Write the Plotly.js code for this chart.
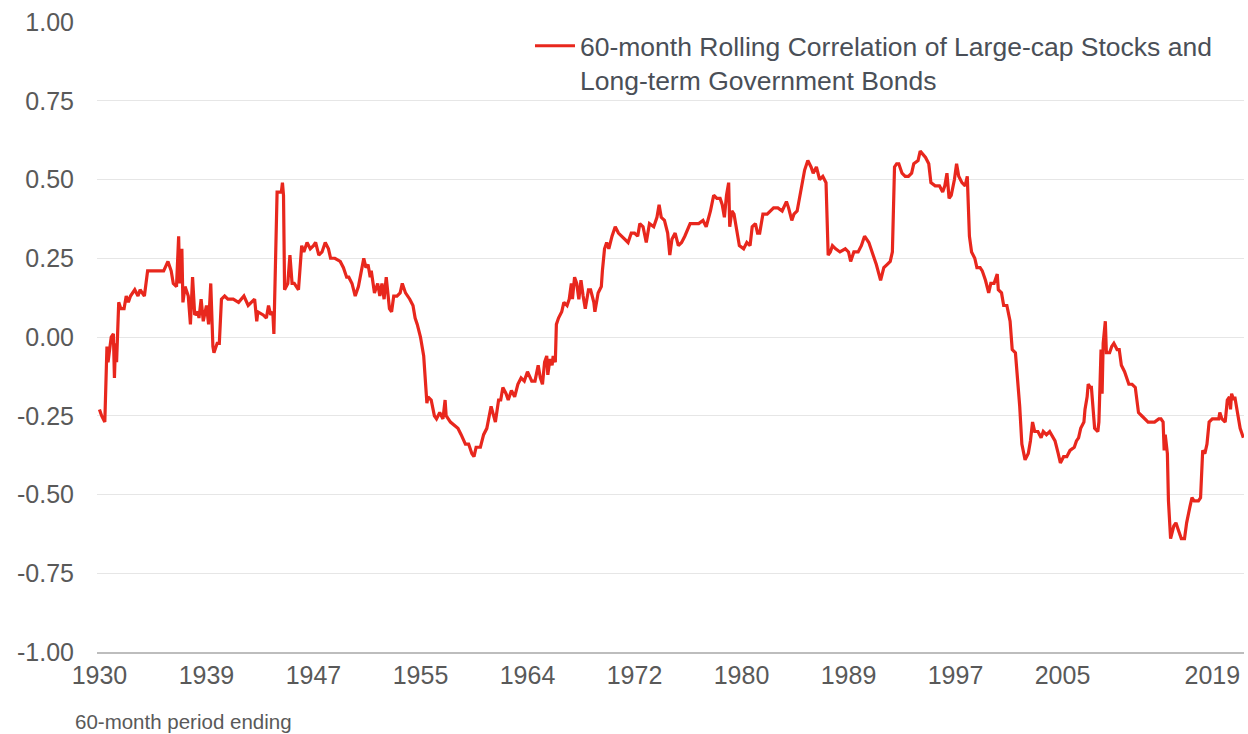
<!DOCTYPE html>
<html>
<head>
<meta charset="utf-8">
<script src="https://cdn.plot.ly/plotly-3.0.1.min.js"></script>
<style>html,body{margin:0;padding:0;background:#fff;}#chart{width:1248px;height:734px;}</style>
</head>
<body>
<div id="chart"></div>
<script>
// Months elapsed since the first 60-month period ending (Dec 1930 = 0)
const monthIndex = [0,2,5,7,8,10,11,13,14,15,16,18,20,23,25,27,29,33,36,38,42,45,49,53,60,64,67,69,72,74,75,77,78,80,83,85,87,89,92,93,95,97,100,102,104,106,107,110,112,114,117,120,125,130,135,139,142,145,147,148,153,156,158,160,162,163,166,168,170,171,172,173,176,178,180,182,186,189,191,194,197,200,202,205,208,211,214,216,220,225,228,231,233,236,239,242,245,247,249,251,253,254,257,260,262,264,266,268,271,273,275,278,281,283,286,290,293,295,297,300,303,304,306,307,310,313,315,318,321,323,324,328,332,335,338,342,345,348,350,352,356,359,362,366,370,373,375,377,380,382,385,388,391,394,397,400,404,407,410,412,414,416,418,419,421,423,424,426,427,429,432,434,437,439,441,442,444,446,448,450,452,454,457,459,462,463,466,469,470,472,474,476,479,482,485,488,491,494,497,500,503,505,508,511,514,518,521,523,525,528,531,533,535,538,541,544,547,552,555,560,564,567,571,574,577,580,582,584,586,588,589,591,593,596,598,602,605,608,610,613,615,617,620,624,627,630,634,638,642,644,647,649,652,654,656,659,662,665,667,670,673,676,679,681,683,685,688,692,697,700,702,705,709,712,715,719,721,723,726,730,733,736,739,741,743,745,747,750,753,756,759,761,765,767,770,772,775,777,781,785,788,790,792,794,796,799,801,803,806,809,811,813,815,818,820,823,825,828,831,833,836,839,840,843,845,848,851,853,856,858,860,862,865,868,870,872,874,877,880,882,885,888,891,893,896,898,901,904,907,911,913,915,917,920,921,923,924,926,927,929,930,933,934,936,937,938,940,941,944,946,948,951,953,955,958,962,965,968,971,974,977,980,983,986,990,992,994,995,996,998,999,1001,1004,1006,1008,1011,1014,1016,1019,1021,1023,1027,1029,1031,1033,1035,1037,1040,1043,1046,1047,1049,1052,1054,1056,1057,1058,1060,1061,1063,1064,1066,1069];

// 60-month rolling correlation values
const correlation = [-0.23,-0.25,-0.27,-0.03,-0.08,-0.03,0.00,0.01,-0.13,-0.02,-0.08,0.11,0.09,0.09,0.13,0.11,0.13,0.15,0.13,0.15,0.13,0.21,0.21,0.21,0.21,0.24,0.21,0.17,0.16,0.32,0.17,0.28,0.11,0.16,0.13,0.04,0.19,0.07,0.08,0.06,0.12,0.05,0.10,0.04,0.17,-0.03,-0.05,-0.02,-0.02,0.12,0.13,0.12,0.12,0.11,0.13,0.10,0.11,0.12,0.05,0.08,0.07,0.06,0.10,0.07,0.08,0.01,0.46,0.46,0.46,0.49,0.45,0.15,0.17,0.26,0.17,0.17,0.15,0.29,0.27,0.30,0.28,0.29,0.30,0.26,0.27,0.30,0.28,0.25,0.25,0.24,0.22,0.19,0.19,0.17,0.13,0.16,0.21,0.25,0.22,0.23,0.19,0.21,0.14,0.17,0.13,0.17,0.12,0.19,0.09,0.08,0.13,0.13,0.14,0.17,0.14,0.12,0.10,0.06,0.04,0.00,-0.06,-0.10,-0.21,-0.19,-0.20,-0.25,-0.26,-0.24,-0.26,-0.20,-0.25,-0.27,-0.28,-0.29,-0.31,-0.34,-0.34,-0.37,-0.38,-0.35,-0.35,-0.31,-0.29,-0.22,-0.27,-0.20,-0.20,-0.16,-0.18,-0.20,-0.17,-0.19,-0.15,-0.13,-0.14,-0.11,-0.14,-0.14,-0.09,-0.13,-0.15,-0.08,-0.06,-0.12,-0.07,-0.09,-0.06,-0.08,0.04,0.06,0.08,0.11,0.10,0.12,0.17,0.12,0.19,0.17,0.12,0.18,0.13,0.09,0.15,0.15,0.11,0.08,0.14,0.16,0.21,0.28,0.30,0.28,0.32,0.35,0.33,0.32,0.31,0.30,0.33,0.33,0.32,0.36,0.35,0.30,0.36,0.35,0.38,0.42,0.38,0.37,0.33,0.26,0.31,0.33,0.29,0.30,0.32,0.36,0.36,0.36,0.37,0.35,0.40,0.45,0.44,0.44,0.42,0.38,0.45,0.49,0.35,0.40,0.39,0.33,0.29,0.28,0.30,0.29,0.35,0.36,0.33,0.33,0.39,0.39,0.40,0.41,0.41,0.40,0.43,0.41,0.37,0.39,0.40,0.44,0.47,0.53,0.56,0.54,0.52,0.54,0.50,0.51,0.49,0.26,0.27,0.29,0.28,0.27,0.28,0.27,0.24,0.27,0.27,0.29,0.32,0.30,0.28,0.26,0.23,0.18,0.22,0.23,0.24,0.27,0.54,0.55,0.55,0.52,0.51,0.51,0.52,0.55,0.56,0.59,0.58,0.57,0.55,0.49,0.48,0.48,0.46,0.48,0.52,0.44,0.45,0.50,0.55,0.51,0.49,0.48,0.51,0.32,0.27,0.25,0.22,0.22,0.21,0.18,0.14,0.17,0.17,0.20,0.15,0.14,0.10,0.10,0.05,-0.04,-0.05,-0.13,-0.22,-0.34,-0.39,-0.37,-0.33,-0.27,-0.30,-0.30,-0.32,-0.30,-0.31,-0.30,-0.32,-0.33,-0.37,-0.40,-0.38,-0.38,-0.36,-0.35,-0.33,-0.32,-0.29,-0.27,-0.23,-0.19,-0.15,-0.16,-0.16,-0.25,-0.29,-0.30,-0.27,-0.04,-0.18,-0.02,0.05,-0.05,-0.05,-0.03,-0.02,-0.04,-0.04,-0.09,-0.11,-0.15,-0.15,-0.16,-0.24,-0.25,-0.26,-0.27,-0.27,-0.27,-0.26,-0.26,-0.27,-0.36,-0.31,-0.37,-0.52,-0.64,-0.60,-0.59,-0.61,-0.64,-0.64,-0.59,-0.54,-0.51,-0.52,-0.52,-0.51,-0.36,-0.37,-0.34,-0.27,-0.26,-0.26,-0.26,-0.24,-0.26,-0.27,-0.20,-0.19,-0.23,-0.18,-0.20,-0.19,-0.24,-0.25,-0.29,-0.32];

// X-axis tick labels and the month index where each sits
const xTickLabels = ['1930','1939','1947','1955','1964','1972','1980','1989','1997','2005','2019'];
const xTickMonths = [0,100,200,300,400,500,600,700,800,900,1040];

// Y-axis ticks
const yTickValues = [-1,-0.75,-0.5,-0.25,0,0.25,0.5,0.75,1];
const yTickLabels = ['-1.00','-0.75','-0.50','-0.25','0.00','0.25','0.50','0.75','1.00'];

const seriesName = '60-month Rolling Correlation of Large-cap Stocks and<br>Long-term Government Bonds';
const xNote = '60-month period ending';

const FONT = 'Liberation Sans, Arial, sans-serif';
const TXT = '#595959';

const trace = {
  x: monthIndex,
  y: correlation,
  type: 'scatter',
  mode: 'lines',
  name: seriesName,
  line: {color: '#e8271d', width: 3.2},
  hoverinfo: 'skip'
};

const layout = {
  width: 1248,
  height: 734,
  margin: {l: 97, r: 4, t: 22, b: 82, pad: 0},
  paper_bgcolor: '#ffffff',
  plot_bgcolor: '#ffffff',
  font: {family: FONT, color: TXT},
  showlegend: true,
  legend: {
    x: 0.3775, xanchor: 'left',
    y: 1, yanchor: 'top',
    valign: 'top',
    itemwidth: 40,
    bgcolor: 'rgba(0,0,0,0)',
    font: {family: FONT, size: 26.5, color: '#4a4f57'}
  },
  xaxis: {
    range: [-2.3, 1069.6],
    tickmode: 'array',
    tickvals: xTickMonths,
    ticktext: xTickLabels,
    showgrid: false,
    zeroline: false,
    showline: true,
    linecolor: '#bdbdbd',
    linewidth: 2,
    ticks: '',
    tickfont: {family: FONT, size: 25, color: TXT}
  },
  yaxis: {
    range: [-1, 1],
    tickmode: 'array',
    tickvals: yTickValues,
    ticktext: yTickLabels,
    showgrid: true,
    gridcolor: '#e6e6e6',
    gridwidth: 1,
    zeroline: false,
    showline: false,
    ticks: '',
    ticklabelstandoff: 22,
    tickfont: {family: FONT, size: 25, color: TXT}
  },
  annotations: [{
    text: xNote,
    xref: 'paper', yref: 'paper',
    x: -0.0209, xanchor: 'left',
    y: -0.111, yanchor: 'middle',
    showarrow: false,
    font: {family: FONT, size: 20.5, color: TXT}
  }]
};

Plotly.newPlot('chart', [trace], layout, {displayModeBar: false, staticPlot: true});
</script>
</body>
</html>
